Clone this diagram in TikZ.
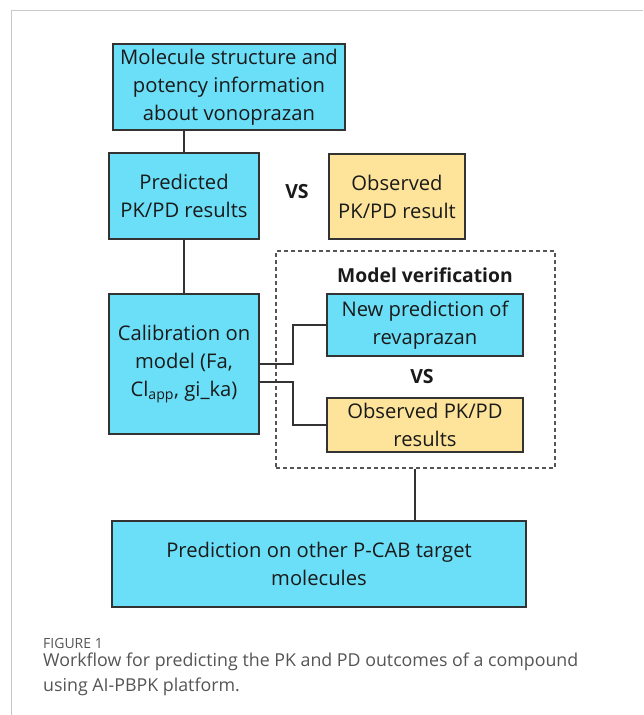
\documentclass[tikz,border=0pt]{standalone}
\usepackage{fontspec}
\setmainfont{Open Sans}
\definecolor{cyanfill}{HTML}{6ADFF7}
\definecolor{yellowfill}{HTML}{FDE49A}
\definecolor{boxline}{HTML}{333333}
\definecolor{txt}{HTML}{1A1A1A}
\definecolor{capgray}{HTML}{555555}
\definecolor{framegray}{HTML}{C8C8C8}
\begin{document}
\begin{tikzpicture}[x=1pt,y=-1pt,
  box/.style={draw=boxline, line width=1.5pt, inner sep=0pt, align=center,
    text=txt, font=\fontsize{20.2}{28}\selectfont},
  bluebox/.style={box, fill=cyanfill},
  yellowbox/.style={box, fill=yellowfill},
  link/.style={draw=boxline, line width=1.3pt},
  vslabel/.style={text=txt, font=\fontsize{19.5}{22}\selectfont\bfseries},
  verif/.style={draw=capgray, line width=1.3pt, dash pattern=on 4pt off 3pt, inner sep=0pt}]
\useasboundingbox (0,0) rectangle (643,715);
\fill[white] (0,0) rectangle (643,715);
% page frame
\draw[framegray, line width=1pt] (643,10) -- (11,10) -- (11,715);

% boxes
\node[bluebox, minimum width=232pt, minimum height=86pt] (mol) at (229,87)
  {Molecule structure and\\potency information\\about vonoprazan};
\node[bluebox, minimum width=150pt, minimum height=86pt] (pred) at (184,196)
  {Predicted\\PK/PD results};
\node[vslabel] (vs1) at (297,192) {VS};
\node[yellowbox, minimum width=136pt, minimum height=85pt] (obs) at (397,196.5)
  {Observed\\PK/PD result};

\node[verif, minimum width=279pt, minimum height=217pt] (ver) at (415.5,359.5) {};
\node[vslabel, font=\fontsize{19.3}{22}\selectfont\bfseries] (vertitle) at (425,275) {Model verification};

\node[bluebox, minimum width=150pt, minimum height=140pt] (calib) at (184,364)
  {Calibration on\\model (Fa,\\Cl\textsubscript{app}, gi\_ka)};
\node[bluebox, minimum width=196pt, minimum height=62pt] (newpred) at (425,325)
  {New prediction of\\revaprazan};
\node[vslabel] (vs2) at (422,377) {VS};
\node[yellowbox, minimum width=196pt, minimum height=54pt] (obs2) at (425,425)
  {Observed PK/PD\\results};

\node[bluebox, minimum width=414pt, minimum height=86pt] (other) at (319,564)
  {Prediction on other P-CAB target\\molecules};

% connectors
\draw[link] (pred.north) -- (pred.north |- mol.south);
\draw[link] (pred.south) -- (pred.south |- calib.north);
\coordinate (jn) at (293,0);
\coordinate (calibout) at ([yshift=-18pt]calib.east);
\draw[link] (calib.east) -- (jn |- calib.east) |- (newpred.west);
\draw[link] (calibout) -- (jn |- calibout) |- (obs2.west);
\coordinate (dn) at (415,0);
\draw[link] (dn |- ver.south) -- (dn |- other.north);

% caption
\node[anchor=base west, inner sep=0pt, text=capgray, font=\fontsize{14}{16}\selectfont] (figlabel) at (43,648) {FIGURE 1};
\node[anchor=north west, inner sep=0pt, align=left, text=capgray, font=\fontsize{17.8}{25}\selectfont] (caption) at (43,653)
  {Workflow for predicting the PK and PD outcomes of a compound\\using AI-PBPK platform.};
\end{tikzpicture}
\end{document}
